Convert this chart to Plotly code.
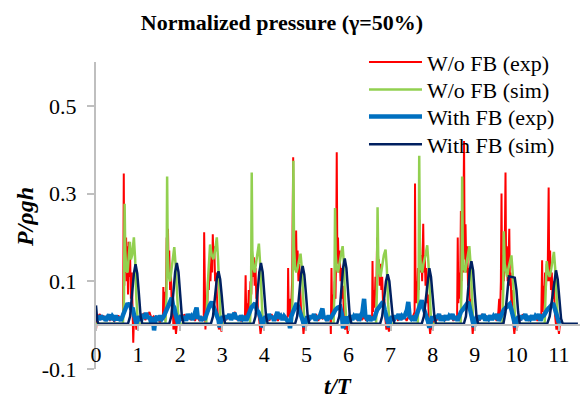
import plotly.graph_objects as go

# ---- data (t/T, P/rho g h) ----
red_pts = [
    (0.00,-0.01),(0.02,0.01),(0.05,0.02),(0.09,0.025),(0.13,0.015),(0.18,0.02),(0.23,0.01),(0.28,0.018),(0.33,0.012),(0.38,0.02),(0.43,0.008),(0.48,0.015),(0.53,0.022),(0.58,0.01),(0.62,0.02),(0.645,0.03),
    (0.66,0.346),(0.672,0.09),(0.685,0.19),(0.70,0.12),(0.715,0.20),(0.73,0.10),(0.745,0.18),(0.76,0.07),(0.775,0.19),(0.79,0.11),(0.81,0.16),(0.83,0.06),(0.85,0.12),(0.87,0.03),(0.885,-0.04),(0.90,0.01),(0.93,0.02),(0.96,-0.01),(0.99,0.015),
    (1.02,0.01),(1.07,0.02),(1.12,0.025),(1.17,0.012),(1.22,0.02),(1.27,0.03),(1.32,0.015),(1.37,0.02),(1.42,0.01),(1.47,0.018),(1.52,0.006),(1.56,0.015),
    (1.59,0.02),(1.60,0.087),(1.615,0.03),(1.63,0.076),(1.645,0.01),(1.66,0.05),(1.68,0.20),(1.695,0.11),(1.71,0.22),(1.725,0.13),(1.74,0.17),(1.76,0.08),(1.78,0.12),(1.80,0.04),(1.82,0.06),(1.84,-0.01),(1.87,0.02),(1.90,-0.02),(1.93,0.01),(1.97,0.015),
    (2.00,0.02),(2.05,0.01),(2.10,0.025),(2.15,0.015),(2.20,0.02),(2.25,0.012),(2.30,0.022),(2.35,0.01),(2.40,0.02),(2.45,0.012),(2.50,0.018),(2.54,0.01),
    (2.56,0.02),(2.57,0.212),(2.585,0.02),(2.60,-0.01),(2.62,0.06),(2.64,0.03),(2.66,0.10),(2.68,0.08),(2.70,0.14),(2.72,0.10),(2.74,0.16),(2.76,0.12),(2.775,0.207),(2.79,0.15),(2.81,0.18),(2.83,0.10),(2.85,0.12),(2.87,0.05),(2.89,0.03),(2.92,-0.01),(2.95,0.02),(2.98,-0.015),(3.01,0.01),
    (3.05,0.02),(3.10,0.012),(3.15,0.025),(3.20,0.015),(3.25,0.02),(3.30,0.03),(3.35,0.012),(3.40,0.02),(3.45,0.01),(3.50,0.015),(3.54,0.02),
    (3.555,0.114),(3.57,0.02),(3.59,0.05),(3.61,0.02),(3.63,0.08),(3.65,0.04),(3.67,0.10),(3.69,0.07),(3.71,0.16),(3.73,0.11),(3.75,0.155),(3.77,0.09),(3.79,0.13),(3.81,0.06),(3.83,0.09),(3.85,0.03),(3.88,0.01),(3.91,-0.02),(3.95,0.01),(3.98,-0.005),
    (4.02,0.015),(4.07,0.02),(4.12,0.01),(4.17,0.025),(4.22,0.015),(4.27,0.02),(4.32,0.01),(4.37,0.02),(4.42,0.015),(4.47,0.02),(4.52,0.01),
    (4.555,0.02),(4.565,0.13),(4.58,0.02),(4.60,0.06),(4.62,0.02),(4.64,0.05),(4.66,0.10),(4.685,0.383),(4.70,0.13),(4.72,0.20),(4.74,0.15),(4.755,0.216),(4.77,0.13),(4.79,0.17),(4.81,0.10),(4.83,0.14),(4.85,0.07),(4.87,0.04),(4.90,0.02),(4.93,-0.02),(4.96,0.01),(4.99,-0.005),
    (5.03,0.02),(5.08,0.012),(5.13,0.02),(5.18,0.015),(5.23,0.025),(5.28,0.01),(5.33,0.02),(5.38,0.015),(5.43,0.02),(5.48,0.01),(5.53,0.018),(5.57,0.02),(5.58,-0.02),
    (5.595,0.13),(5.61,0.02),(5.63,0.07),(5.65,0.03),(5.67,0.10),(5.69,0.06),(5.705,0.15),(5.72,0.394),(5.735,0.14),(5.75,0.20),(5.77,0.12),(5.79,0.17),(5.81,0.10),(5.83,0.13),(5.85,0.06),(5.87,0.09),(5.89,0.02),(5.92,-0.01),(5.95,0.015),(5.98,-0.02),
    (6.02,0.01),(6.07,0.02),(6.12,0.015),(6.17,0.02),(6.22,0.01),(6.27,0.025),(6.32,0.012),(6.37,0.02),(6.42,0.01),(6.47,0.02),(6.52,0.015),
    (6.56,0.02),(6.57,0.146),(6.585,0.03),(6.60,0.08),(6.62,0.04),(6.64,0.11),(6.66,0.07),(6.68,0.20),(6.70,0.12),(6.72,0.15),(6.74,0.09),(6.76,0.14),(6.78,0.08),(6.80,0.11),(6.82,0.05),(6.85,0.06),(6.87,0.02),(6.90,-0.01),(6.93,0.01),(6.96,-0.015),(6.99,0.01),
    (7.03,0.02),(7.08,0.012),(7.13,0.02),(7.18,0.01),(7.23,0.025),(7.28,0.015),(7.33,0.02),(7.38,0.01),(7.43,0.02),(7.48,0.015),(7.53,0.02),
    (7.57,0.03),(7.58,0.323),(7.595,0.05),(7.61,0.10),(7.63,0.05),(7.65,0.13),(7.67,0.08),(7.69,0.24),(7.71,0.12),(7.73,0.16),(7.75,0.10),(7.775,0.231),(7.79,0.12),(7.81,0.16),(7.83,0.09),(7.85,0.13),(7.87,0.05),(7.89,0.07),(7.91,0.01),(7.94,-0.02),(7.97,0.01),(8.00,-0.01),
    (8.04,0.02),(8.09,0.01),(8.14,0.025),(8.19,0.015),(8.24,0.02),(8.29,0.01),(8.34,0.022),(8.39,0.015),(8.44,0.02),(8.49,0.01),(8.54,0.018),(8.58,0.02),
    (8.595,0.20),(8.61,0.05),(8.63,0.12),(8.65,0.06),(8.67,0.26),(8.685,0.10),(8.70,0.18),(8.72,0.12),(8.745,0.42),(8.76,0.15),(8.78,0.23),(8.80,0.12),(8.82,0.18),(8.84,0.09),(8.86,0.13),(8.88,0.05),(8.90,0.06),(8.92,0.01),(8.95,-0.02),(8.98,0.01),
    (9.02,0.015),(9.07,0.02),(9.12,0.01),(9.17,0.025),(9.22,0.015),(9.27,0.02),(9.32,0.01),(9.37,0.02),(9.42,0.015),(9.47,0.02),(9.52,0.01),(9.56,0.03),
    (9.58,0.06),(9.60,0.02),(9.62,0.10),(9.635,0.30),(9.65,0.08),(9.67,0.16),(9.69,0.10),(9.71,0.15),(9.73,0.348),(9.745,0.12),(9.76,0.18),(9.78,0.10),(9.80,0.14),(9.82,0.22),(9.835,0.09),(9.85,0.12),(9.87,0.05),(9.89,0.08),(9.91,0.01),(9.94,-0.02),(9.97,0.01),(10.00,-0.01),
    (10.04,0.02),(10.09,0.01),(10.14,0.025),(10.19,0.015),(10.24,0.02),(10.29,0.01),(10.34,0.02),(10.39,0.015),(10.44,0.02),(10.49,0.01),(10.54,0.02),(10.58,0.02),
    (10.60,0.148),(10.615,0.03),(10.63,0.09),(10.65,0.05),(10.67,0.12),(10.69,0.08),(10.71,0.14),(10.73,0.10),(10.755,0.314),(10.77,0.10),(10.79,0.17),(10.81,0.08),(10.83,0.12),(10.85,0.06),(10.87,0.10),(10.89,0.04),(10.91,0.02),(10.94,-0.01),(10.97,0.01),(11.00,-0.02),(11.02,0.0),
]

green_pts = [
    (0.00,0.003),(0.30,0.004),(0.64,0.004),(0.665,0.06),(0.68,0.277),(0.695,0.17),(0.72,0.125),(0.75,0.12),(0.78,0.17),(0.805,0.19),(0.83,0.15),(0.86,0.16),(0.90,0.20),(0.93,0.15),(0.96,0.06),(0.99,0.012),(1.02,0.003),
    (1.35,0.004),(1.65,0.004),(1.675,0.07),(1.69,0.339),(1.705,0.16),(1.73,0.11),(1.76,0.10),(1.79,0.12),(1.82,0.15),(1.86,0.178),(1.89,0.14),(1.93,0.05),(1.96,0.01),(1.99,0.003),
    (2.30,0.004),(2.62,0.004),(2.66,0.10),(2.71,0.184),(2.75,0.16),(2.79,0.15),(2.83,0.17),(2.87,0.20),(2.90,0.15),(2.93,0.06),(2.96,0.012),(2.99,0.003),
    (3.30,0.004),(3.66,0.004),(3.685,0.08),(3.70,0.348),(3.715,0.17),(3.74,0.13),(3.77,0.12),(3.80,0.14),(3.83,0.16),(3.87,0.186),(3.90,0.14),(3.93,0.05),(3.96,0.01),(3.99,0.003),
    (4.30,0.004),(4.655,0.004),(4.675,0.09),(4.69,0.375),(4.705,0.18),(4.73,0.13),(4.76,0.12),(4.79,0.13),(4.83,0.15),(4.86,0.163),(4.89,0.13),(4.92,0.05),(4.95,0.01),(4.98,0.003),
    (5.30,0.004),(5.645,0.004),(5.665,0.08),(5.68,0.267),(5.695,0.16),(5.72,0.13),(5.75,0.12),(5.78,0.14),(5.82,0.16),(5.86,0.18),(5.89,0.14),(5.92,0.05),(5.95,0.01),(5.98,0.003),
    (6.30,0.004),(6.655,0.004),(6.675,0.08),(6.69,0.269),(6.705,0.16),(6.73,0.12),(6.76,0.11),(6.79,0.13),(6.84,0.16),(6.88,0.172),(6.91,0.13),(6.94,0.05),(6.97,0.01),(7.00,0.003),
    (7.30,0.004),(7.645,0.004),(7.665,0.09),(7.68,0.386),(7.695,0.18),(7.72,0.13),(7.75,0.12),(7.78,0.14),(7.83,0.16),(7.87,0.182),(7.90,0.14),(7.93,0.05),(7.96,0.01),(7.99,0.003),
    (8.30,0.004),(8.665,0.004),(8.685,0.09),(8.70,0.339),(8.715,0.17),(8.74,0.13),(8.77,0.12),(8.80,0.14),(8.84,0.16),(8.87,0.18),(8.90,0.14),(8.93,0.05),(8.96,0.01),(8.99,0.003),
    (9.30,0.004),(9.655,0.004),(9.675,0.07),(9.69,0.214),(9.71,0.14),(9.74,0.12),(9.77,0.11),(9.80,0.13),(9.84,0.15),(9.87,0.159),(9.90,0.12),(9.93,0.05),(9.96,0.01),(9.99,0.003),
    (10.30,0.004),(10.66,0.004),(10.685,0.08),(10.71,0.146),(10.74,0.12),(10.78,0.11),(10.82,0.13),(10.86,0.16),(10.88,0.167),(10.91,0.13),(10.94,0.06),(10.97,0.015),(11.00,0.003),(11.02,0.003),
]

blue_pts = [
    (0.00,0.015),(0.03,0.02),(0.07,0.012),(0.11,0.022),(0.15,0.014),(0.19,0.02),(0.23,0.01),(0.27,0.018),(0.31,0.024),(0.35,0.012),(0.39,0.02),(0.43,0.015),(0.47,0.022),(0.51,0.012),(0.55,0.018),(0.59,0.01),(0.63,0.02),(0.67,0.03),(0.71,0.04),(0.75,0.05),(0.78,0.045),(0.81,0.05),(0.84,0.035),(0.87,0.04),(0.90,0.025),(0.93,0.015),(0.96,0.004),(0.99,0.012),
    (1.03,0.02),(1.07,0.01),(1.11,0.025),(1.15,0.015),(1.19,0.028),(1.23,0.015),(1.27,0.02),(1.31,0.006),(1.35,0.018),(1.38,-0.012),(1.41,0.015),(1.45,0.02),(1.49,0.01),(1.53,0.022),(1.57,0.015),(1.61,0.02),(1.65,0.03),(1.69,0.035),(1.73,0.045),(1.77,0.055),(1.80,0.062),(1.83,0.045),(1.86,0.04),(1.89,0.025),(1.92,0.015),(1.95,0.004),(1.98,0.015),
    (2.02,0.022),(2.06,0.012),(2.10,0.02),(2.14,0.01),(2.18,0.025),(2.22,0.015),(2.26,0.02),(2.30,0.012),(2.34,0.022),(2.37,0.03),(2.39,0.04),(2.42,0.015),(2.46,0.02),(2.50,0.01),(2.54,0.018),(2.58,0.012),(2.62,0.025),(2.66,0.035),(2.70,0.045),(2.75,0.053),(2.79,0.04),(2.83,0.03),(2.87,0.022),(2.91,0.012),(2.94,-0.005),(2.97,0.01),
    (3.01,0.02),(3.05,0.012),(3.09,0.022),(3.13,0.015),(3.17,0.025),(3.21,0.012),(3.25,0.02),(3.29,0.028),(3.33,0.014),(3.37,0.02),(3.41,0.01),(3.45,0.022),(3.49,0.015),(3.53,0.02),(3.57,0.01),(3.61,0.022),(3.65,0.03),(3.69,0.04),(3.74,0.045),(3.78,0.05),(3.82,0.035),(3.86,0.03),(3.90,0.02),(3.93,0.008),(3.96,-0.005),(3.99,0.012),
    (4.03,0.02),(4.07,0.012),(4.11,0.025),(4.15,0.015),(4.19,0.02),(4.23,0.01),(4.27,0.022),(4.31,0.03),(4.35,0.015),(4.39,0.02),(4.43,0.012),(4.47,0.02),(4.51,0.015),(4.55,0.01),(4.59,0.005),(4.61,-0.007),(4.64,0.02),(4.68,0.03),(4.72,0.04),(4.77,0.05),(4.81,0.04),(4.85,0.03),(4.89,0.02),(4.92,0.008),(4.95,-0.004),(4.98,0.012),
    (5.02,0.02),(5.06,0.012),(5.10,0.022),(5.14,0.015),(5.18,0.025),(5.22,0.01),(5.26,0.02),(5.30,0.015),(5.34,0.025),(5.38,0.038),(5.41,0.015),(5.45,0.02),(5.49,0.01),(5.53,0.022),(5.57,0.015),(5.61,0.02),(5.65,0.028),(5.69,0.035),(5.74,0.04),(5.80,0.042),(5.84,0.025),(5.87,-0.007),(5.90,0.01),(5.94,0.02),(5.97,0.005),
    (6.01,0.015),(6.05,0.022),(6.09,0.012),(6.13,0.02),(6.17,0.015),(6.21,0.025),(6.25,0.01),(6.29,0.02),(6.33,0.03),(6.37,0.06),(6.40,0.02),(6.44,0.015),(6.48,0.022),(6.52,0.01),(6.56,0.018),(6.60,0.012),(6.64,0.025),(6.68,0.035),(6.72,0.04),(6.77,0.045),(6.82,0.053),(6.86,0.035),(6.90,0.02),(6.93,0.008),(6.96,-0.005),(6.99,0.012),
    (7.03,0.02),(7.07,0.01),(7.11,0.022),(7.15,0.015),(7.19,0.025),(7.23,0.012),(7.27,0.02),(7.31,0.015),(7.35,0.025),(7.39,0.035),(7.42,0.053),(7.45,0.02),(7.49,0.015),(7.53,0.02),(7.57,0.01),(7.61,0.022),(7.65,0.03),(7.69,0.045),(7.74,0.057),(7.78,0.04),(7.82,0.03),(7.86,0.02),(7.89,0.008),(7.92,-0.006),(7.95,0.01),(7.99,0.02),
    (8.03,0.012),(8.07,0.022),(8.11,0.015),(8.15,0.025),(8.19,0.01),(8.23,0.02),(8.27,0.015),(8.31,0.022),(8.35,0.012),(8.39,0.02),(8.43,0.015),(8.47,0.025),(8.51,0.012),(8.55,0.02),(8.59,0.01),(8.63,0.022),(8.67,0.03),(8.71,0.035),(8.75,0.04),(8.80,0.045),(8.85,0.053),(8.89,0.035),(8.92,0.02),(8.95,0.005),(8.98,-0.004),
    (9.01,0.012),(9.05,0.02),(9.09,0.012),(9.13,0.022),(9.17,0.015),(9.21,0.025),(9.25,0.01),(9.29,0.02),(9.33,0.015),(9.37,0.022),(9.41,0.012),(9.45,0.02),(9.49,0.015),(9.53,0.025),(9.57,0.01),(9.61,0.02),(9.65,0.028),(9.69,0.035),(9.74,0.04),(9.79,0.045),(9.83,0.048),(9.87,0.035),(9.91,0.02),(9.94,0.008),(9.97,-0.005),
    (10.00,0.012),(10.04,0.02),(10.08,0.012),(10.12,0.022),(10.16,0.015),(10.20,0.025),(10.24,0.01),(10.28,0.02),(10.32,0.015),(10.36,0.022),(10.40,0.012),(10.44,0.02),(10.48,0.015),(10.52,0.025),(10.56,0.01),(10.60,0.02),(10.64,0.022),(10.68,0.03),(10.72,0.035),(10.77,0.04),(10.82,0.045),(10.86,0.05),(10.90,0.038),(10.94,0.025),(10.97,0.01),(11.00,0.005),(11.02,0.01),
]

navy_pts = [
    (0.00,0.045),(0.03,0.01),(0.06,0.003),
    (0.76,0.003),(0.81,0.02),(0.86,0.07),(0.90,0.118),(0.94,0.139),(0.98,0.118),(1.02,0.07),(1.06,0.02),(1.10,0.003),
    (1.74,0.003),(1.79,0.02),(1.84,0.07),(1.88,0.121),(1.92,0.142),(1.96,0.121),(2.00,0.07),(2.04,0.02),(2.08,0.003),
    (2.73,0.003),(2.78,0.02),(2.83,0.065),(2.87,0.105),(2.91,0.123),(2.95,0.105),(2.99,0.065),(3.03,0.02),(3.07,0.003),
    (3.74,0.003),(3.79,0.02),(3.84,0.07),(3.88,0.121),(3.92,0.142),(3.96,0.121),(4.00,0.07),(4.04,0.02),(4.08,0.003),
    (4.73,0.003),(4.78,0.02),(4.83,0.07),(4.87,0.115),(4.91,0.135),(4.95,0.115),(4.99,0.07),(5.03,0.02),(5.07,0.003),
    (5.73,0.003),(5.78,0.02),(5.83,0.075),(5.87,0.13),(5.91,0.152),(5.95,0.13),(5.99,0.075),(6.03,0.02),(6.07,0.003),
    (6.75,0.003),(6.80,0.02),(6.85,0.06),(6.89,0.10),(6.93,0.116),(6.97,0.10),(7.01,0.06),(7.05,0.02),(7.09,0.003),
    (7.74,0.003),(7.79,0.02),(7.84,0.065),(7.88,0.11),(7.92,0.13),(7.96,0.11),(8.00,0.065),(8.04,0.02),(8.08,0.003),
    (8.74,0.003),(8.79,0.02),(8.84,0.07),(8.88,0.125),(8.92,0.146),(8.96,0.125),(9.00,0.07),(9.04,0.02),(9.08,0.003),
    (9.68,0.003),(9.73,0.03),(9.78,0.09),(9.81,0.111),(9.88,0.110),(9.95,0.108),(9.99,0.08),(10.03,0.03),(10.07,0.003),
    (10.72,0.003),(10.78,0.02),(10.84,0.065),(10.89,0.108),(10.93,0.125),(10.97,0.105),(11.01,0.06),(11.05,0.015),(11.09,0.003),
    (11.45,0.003),
]

series_names = ["W/o FB (exp)", "W/o FB (sim)", "With FB (exp)", "With FB (sim)"]
x_ticks = list(range(0, 12))
y_ticks = [-0.1, 0.1, 0.3, 0.5]
y_ticktext = ["-0.1", "0.1", "0.3", "0.5"]

FONT = "Liberation Serif, Times New Roman, Times, DejaVu Serif, serif"

fig = go.Figure()
styles = [
    (red_pts, "#FF0000", 2),
    (green_pts, "#92D050", 2.5),
    (blue_pts, "#0070C0", 4.5),
    (navy_pts, "#002060", 2.5),
]
legend_ids = ["legend", "legend2", "legend3", "legend4"]
for (pts, color, w), name, lid in zip(styles, series_names, legend_ids):
    xs = [p[0] for p in pts]
    ys = [p[1] for p in pts]
    fig.add_trace(go.Scatter(x=xs, y=ys, mode="lines", name=name, legend=lid,
                             showlegend=True, line=dict(color=color, width=w)))

# one legend box per entry so the row spacing can follow the reference
legend_tops = [1.068, 0.978, 0.890, 0.800]
legend_common = dict(x=0.5537, xanchor="left", yanchor="top",
                     bgcolor="rgba(0,0,0,0)", font=dict(family=FONT, size=22),
                     itemwidth=53)
legend_layout = {lid: dict(y=yt, **legend_common) for lid, yt in zip(legend_ids, legend_tops)}

fig.update_layout(
    width=580, height=398,
    showlegend=True,
    margin=dict(l=96, r=0, t=62, b=29, autoexpand=False),
    paper_bgcolor="white", plot_bgcolor="white",
    font=dict(family=FONT, size=22, color="black"),
    title=dict(text="<b>Normalized pressure (γ=50%)</b>", x=282/580, xanchor="center",
               xref="container", y=1-22/398, yanchor="middle", yref="container",
               font=dict(family=FONT, size=22, color="black")),
    xaxis=dict(range=[0, 11.5], tickvals=x_ticks, ticks="outside", ticklen=5,
               tickcolor="#bfbfbf", tickwidth=1.5, showline=True, linecolor="#bfbfbf",
               linewidth=2, showgrid=False, zeroline=False, anchor="free",
               position=1/7, tickfont=dict(family=FONT, size=22),
               ticklabelstandoff=4, automargin=False),
    yaxis=dict(range=[-0.1, 0.6], tickvals=y_ticks, ticktext=y_ticktext,
               ticks="outside", ticklen=7, tickcolor="#bfbfbf", tickwidth=1.5,
               showline=True, linecolor="#bfbfbf", linewidth=2, showgrid=False,
               zeroline=False, tickfont=dict(family=FONT, size=22),
               ticklabelstandoff=6, automargin=False),
    annotations=[
        dict(text="<b><i>t/T</i></b>", x=(338-96)/484, y=(369-386)/307, xref="paper", yref="paper",
             showarrow=False, xanchor="center", yanchor="middle",
             font=dict(family=FONT, size=23)),
        dict(text="<b><i>P/ρgh</i></b>", x=(25-96)/484, y=(369-217)/307, xref="paper",
             yref="paper", showarrow=False, xanchor="center", yanchor="middle",
             textangle=-90, font=dict(family=FONT, size=24)),
    ],
    **legend_layout,
)

fig.write_html("out.html", config={"displayModeBar": False},
               post_script="document.body.style.margin='0px';")
